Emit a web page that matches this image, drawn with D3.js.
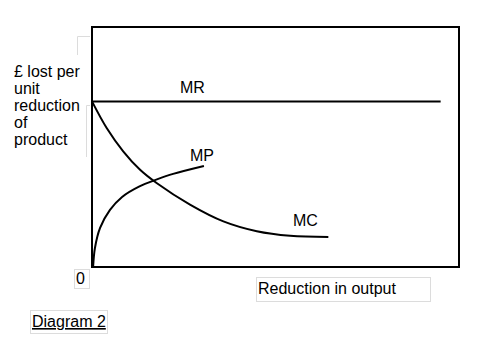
<!DOCTYPE html>
<html>
<head>
<meta charset="utf-8">
<script src="https://cdn.jsdelivr.net/npm/d3@7"></script>
<style>
  body { margin: 0; background: #fff; }
  text { font-family: "Liberation Sans", Arial, sans-serif; font-size: 16px; fill: #000; }
</style>
</head>
<body>
<svg id="chart" width="488" height="341"></svg>
<script>
// curve points (x = reduction in output, y = £ per unit), 0..100 scales
const mrX = [0, 95];
const mrY = [69, 69];
const mcX = [0, 4, 8.5, 13.1, 17.6, 26.7, 35.8, 44.9, 54, 64.4];
const mcY = [69, 57.9, 48.2, 40.5, 35, 26, 19, 14.9, 13, 12.5];
const mpX = [0.3, 0.8, 2.2, 4.9, 8.2, 12.8, 17.7, 22.1, 30.5];
const mpY = [0, 7.9, 16.3, 23.8, 29.2, 33.5, 36.5, 38.8, 42.1];
const yLabelLines = ["£ lost per", "unit", "reduction", "of", "product"];

const width = 488, height = 341;
const marginLeft = 92, marginTop = 27, plotRight = 459, plotBottom = 267;

const svg = d3.select("#chart");
const x = d3.scaleLinear([0, 100], [marginLeft, plotRight]);
const y = d3.scaleLinear([0, 100], [plotBottom, marginTop]);

// faint text-box outlines
const faint = "#dcdcdc";
svg.append("path").attr("fill", "none").attr("stroke", faint)
  .attr("d", "M77.5,55 V36.5 H90");
svg.append("path").attr("fill", "none").attr("stroke", faint)
  .attr("d", "M90,105.5 H86.5 V157");
svg.append("rect").attr("x", 74.5).attr("y", 269.5).attr("width", 15).attr("height", 19)
  .attr("fill", "none").attr("stroke", faint);
svg.append("rect").attr("x", 256.5).attr("y", 277.5).attr("width", 174).attr("height", 24)
  .attr("fill", "none").attr("stroke", faint);
svg.append("rect").attr("x", 30.5).attr("y", 310.5).attr("width", 77).attr("height", 23)
  .attr("fill", "none").attr("stroke", faint);

// plot frame
svg.append("rect")
  .attr("x", x(0)).attr("y", y(100))
  .attr("width", x(100) - x(0)).attr("height", y(0) - y(100))
  .attr("fill", "none").attr("stroke", "#000").attr("stroke-width", 2);

const line = d3.line().x(d => x(d[0])).y(d => y(d[1])).curve(d3.curveCatmullRom.alpha(0.5));

const series = [
  d3.zip(mrX, mrY),
  d3.zip(mcX, mcY),
  d3.zip(mpX, mpY)
];
svg.append("g").selectAll("path").data(series).join("path")
  .attr("d", line)
  .attr("fill", "none")
  .attr("stroke", "#000")
  .attr("stroke-width", 2);

// curve labels
svg.append("text").attr("x", 180).attr("y", 93).text("MR");
svg.append("text").attr("x", 190).attr("y", 161).text("MP");
svg.append("text").attr("x", 293).attr("y", 226).text("MC");

// axis texts
svg.append("text").attr("x", 76).attr("y", 284).text("0");
svg.append("text").attr("x", 258).attr("y", 294).text("Reduction in output");
svg.append("text").attr("x", 14)
  .selectAll("tspan").data(yLabelLines).join("tspan")
  .attr("x", 14).attr("y", (d, i) => 77 + i * 17).text(d => d);
svg.append("text").attr("x", 32).attr("y", 327)
  .attr("text-decoration", "underline").text("Diagram 2");
</script>
</body>
</html>
